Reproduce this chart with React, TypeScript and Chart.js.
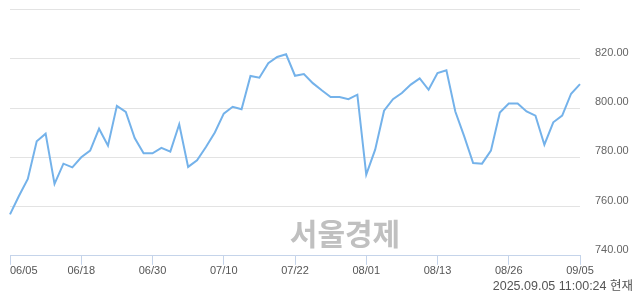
import React, { useEffect, useRef } from "react";
import { Chart, registerables } from "chart.js";

Chart.register(...registerables);

const categories = [
  "06/05", "06/09", "06/10", "06/11", "06/12", "06/13", "06/16", "06/17", "06/18",
  "06/19", "06/20", "06/23", "06/24", "06/25", "06/26", "06/27", "06/30",
  "07/01", "07/02", "07/03", "07/04", "07/07", "07/08", "07/09", "07/10",
  "07/11", "07/14", "07/15", "07/16", "07/17", "07/18", "07/21", "07/22",
  "07/23", "07/24", "07/25", "07/28", "07/29", "07/30", "07/31", "08/01",
  "08/04", "08/05", "08/06", "08/07", "08/08", "08/11", "08/12", "08/13",
  "08/14", "08/18", "08/19", "08/20", "08/21", "08/22", "08/25", "08/26",
  "08/27", "08/28", "08/29", "09/01", "09/02", "09/03", "09/04", "09/05",
];

const prices = [
  756.8, 764.3, 771.2, 786.5, 789.6, 769.2, 777.4, 775.9, 780.0,
  782.7, 791.6, 784.7, 800.9, 798.4, 787.8, 781.6, 781.6,
  783.8, 782.3, 793.4, 776.1, 778.8, 784.2, 790.1, 797.7,
  800.5, 799.5, 813.0, 812.3, 818.2, 820.7, 821.8, 813.1,
  813.8, 810.1, 807.2, 804.5, 804.5, 803.6, 805.4, 773.0,
  783.1, 798.9, 803.6, 806.1, 809.5, 812.0, 807.4, 814.2,
  815.3, 798.6, 788.5, 777.7, 777.4, 782.7, 798.2, 801.8,
  801.8, 798.6, 796.9, 785.1, 794.2, 796.9, 805.8, 809.7,
];

const xTickLabels = ["06/05", "06/18", "06/30", "07/10", "07/22", "08/01", "08/13", "08/26", "09/05"];
const yTicks = [740, 760, 780, 800, 820, 840];
const yHiddenTick = 840;
const watermark = "서울경제";
const timestamp = "2025.09.05 11:00:24 현재";

const watermarkPlugin = {
  id: "watermark",
  beforeDatasetsDraw(chart: any) {
    const ctx = chart.ctx;
    ctx.save();
    ctx.font = "bold 30px 'Noto Sans CJK KR'";
    ctx.fillStyle = "#c0c0c0";
    ctx.textAlign = "center";
    ctx.textBaseline = "middle";
    ctx.fillText(watermark, 345, 234);
    ctx.restore();
  },
};

export default function App() {
  const ref = useRef<HTMLCanvasElement | null>(null);

  useEffect(() => {
    document.body.style.margin = "0";
    if (!ref.current) return;
    const tickColor = "#c5d4ea";
    const chart = new Chart(ref.current, {
      type: "line",
      data: {
        labels: categories,
        datasets: [
          {
            data: prices,
            borderColor: "#74b2ea",
            borderWidth: 2,
            pointRadius: 0,
            tension: 0,
            fill: false,
          },
        ],
      },
      options: {
        animation: false,
        responsive: true,
        maintainAspectRatio: false,
        layout: { padding: { left: 10, right: 7, top: 9.5, bottom: 0 } },
        plugins: {
          legend: { display: false },
          tooltip: { enabled: false },
          title: {
            display: true,
            position: "bottom",
            align: "end",
            text: timestamp,
            color: "#555",
            font: { family: "'Liberation Sans', 'Noto Sans CJK KR'", size: 12.5, weight: "normal" },
            padding: { top: 1, bottom: 0 },
          },
        },
        scales: {
          x: {
            type: "category",
            grid: {
              display: true,
              drawOnChartArea: false,
              drawTicks: true,
              tickLength: 9,
              color: (c: any) => (xTickLabels.includes(categories[c.index]) ? tickColor : "rgba(0,0,0,0)"),
            },
            border: { display: true, color: tickColor, width: 1 },
            ticks: {
              autoSkip: false,
              maxRotation: 0,
              minRotation: 0,
              padding: 0,
              color: "#555",
              font: { family: "'Liberation Sans'", size: 11 },
              callback: (_v: any, i: number) => {
                const l = categories[i];
                if (!xTickLabels.includes(l)) return "";
                return i === 0 ? "\u00a0\u00a0\u00a0\u00a0\u00a0\u00a0\u00a0\u00a0\u00a0" + l : l;
              },
            },
            afterFit: (s: any) => {
              s.paddingLeft = 0;
              s.paddingRight = 0;
            },
          },
          y: {
            position: "right",
            min: 740,
            max: 840,
            afterBuildTicks: (s: any) => {
              s.ticks = yTicks.map((v) => ({ value: v }));
            },
            grid: { color: "#e3e3e3", drawTicks: false, lineWidth: 1 },
            border: { display: false },
            ticks: {
              padding: 15,
              labelOffset: -6,
              color: "#666",
              font: { family: "'Liberation Sans'", size: 11 },
              callback: (v: any) => (v === yHiddenTick ? "" : Number(v).toFixed(2)),
            },
            afterFit: (s: any) => {
              s.width = 53;
              s.paddingTop = 0;
              s.paddingBottom = 0;
            },
          },
        },
      },
      plugins: [watermarkPlugin],
    });
    return () => chart.destroy();
  }, []);

  return (
    <div style={{ width: 640, height: 294, position: "relative" }}>
      <canvas ref={ref} />
    </div>
  );
}
